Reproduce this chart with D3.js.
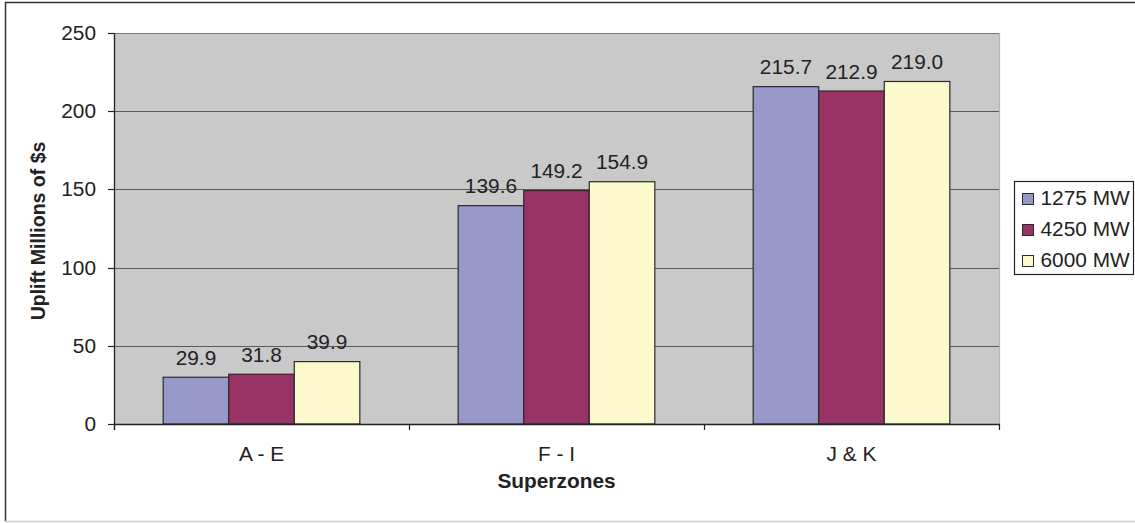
<!DOCTYPE html>
<html>
<head>
<meta charset="utf-8">
<script src="https://cdn.jsdelivr.net/npm/d3@7"></script>
<style>
  html, body { margin: 0; padding: 0; background: #fff; }
  svg { display: block; }
  text { font-family: "Liberation Sans", Arial, sans-serif; fill: #222; }
</style>
</head>
<body>
<svg id="chart" width="1135" height="523"></svg>
<script>
// Uplift by superzone for three capacity cases (millions of $)
const categories = ["A - E", "F - I", "J & K"];
const seriesNames = ["1275 MW", "4250 MW", "6000 MW"];
const values1275 = [29.9, 139.6, 215.7];
const values4250 = [31.8, 149.2, 212.9];
const values6000 = [39.9, 154.9, 219.0];
const yTicks = [0, 50, 100, 150, 200, 250];
const seriesColors = ["#9797c9", "#993366", "#fcf9cc"];

const seriesValues = [values1275, values4250, values6000];

const svg = d3.select("#chart");
const W = 1135, H = 523;
const plot = { left: 114, right: 999, top: 33, bottom: 424 };
const FS = 19.5;       // font size
const SX = 1.07;       // horizontal glyph stretch

// outer frame
svg.append("line").attr("x1", 5).attr("x2", W).attr("y1", 2.5).attr("y2", 2.5)
  .attr("stroke", "#333").attr("stroke-width", 1.5);
svg.append("line").attr("x1", 5.5).attr("x2", 5.5).attr("y1", 2).attr("y2", 521.5)
  .attr("stroke", "#333").attr("stroke-width", 1.5);
svg.append("line").attr("x1", 5).attr("x2", W).attr("y1", 521.5).attr("y2", 521.5)
  .attr("stroke", "#cfcfcf").attr("stroke-width", 1.5);

const x = d3.scaleBand().domain(categories)
  .range([plot.left, plot.right]).paddingInner(1 / 3).paddingOuter(1 / 6);
const xs = d3.scaleBand().domain(seriesNames).range([0, x.bandwidth()]);
const y = d3.scaleLinear().domain([0, 250]).range([plot.bottom, plot.top]);

// plot background
svg.append("rect")
  .attr("x", plot.left).attr("y", plot.top)
  .attr("width", plot.right - plot.left).attr("height", plot.bottom - plot.top)
  .attr("fill", "#c9c9ca");

// gridlines
svg.append("g").selectAll("line")
  .data(yTicks.filter(t => t > 0 && t < 250))
  .join("line")
  .attr("x1", plot.left).attr("x2", plot.right)
  .attr("y1", d => Math.round(y(d)) + 0.5).attr("y2", d => Math.round(y(d)) + 0.5)
  .attr("stroke", "#5a5a5a").attr("stroke-width", 1);

// plot border (top & right)
svg.append("line").attr("x1", plot.left).attr("x2", plot.right)
  .attr("y1", plot.top + 0.5).attr("y2", plot.top + 0.5)
  .attr("stroke", "#7a7a7a").attr("stroke-width", 1.2);
svg.append("line").attr("x1", plot.right + 0.5).attr("x2", plot.right + 0.5)
  .attr("y1", plot.top).attr("y2", plot.bottom)
  .attr("stroke", "#b5b5b5").attr("stroke-width", 1.2);

// bars
const groups = svg.append("g").selectAll("g")
  .data(categories)
  .join("g")
  .attr("transform", d => `translate(${x(d)},0)`);

groups.selectAll("rect")
  .data((c, ci) => seriesNames.map((s, si) => ({ s, si, v: seriesValues[si][ci] })))
  .join("rect")
  .attr("x", d => xs(d.s))
  .attr("y", d => y(d.v))
  .attr("width", xs.bandwidth())
  .attr("height", d => y(0) - y(d.v))
  .attr("fill", d => seriesColors[d.si])
  .attr("stroke", "#2a2a2a").attr("stroke-width", 1.2);

// value labels
groups.selectAll("text")
  .data((c, ci) => seriesNames.map((s, si) => ({ s, si, v: seriesValues[si][ci] })))
  .join("text")
  .attr("transform", d => `translate(${xs(d.s) + xs.bandwidth() / 2},${y(d.v) - 12.5}) scale(${SX},1)`)
  .attr("text-anchor", "middle")
  .style("font-size", FS + "px")
  .text(d => d.v.toFixed(1));

// y axis
const yAxis = svg.append("g");
yAxis.append("line").attr("x1", plot.left + 0.5).attr("x2", plot.left + 0.5)
  .attr("y1", plot.top).attr("y2", plot.bottom + 6)
  .attr("stroke", "#222").attr("stroke-width", 1.3);
yAxis.selectAll(".tick")
  .data(yTicks)
  .join("line")
  .attr("x1", plot.left - 6).attr("x2", plot.left)
  .attr("y1", d => Math.round(y(d)) + 0.5).attr("y2", d => Math.round(y(d)) + 0.5)
  .attr("stroke", "#222").attr("stroke-width", 1.2);
yAxis.selectAll("text")
  .data(yTicks)
  .join("text")
  .attr("transform", d => `translate(96,${y(d)}) scale(${SX},1)`)
  .attr("text-anchor", "end")
  .attr("dy", "0.36em")
  .style("font-size", FS + "px")
  .text(d => d);

// x axis
const xAxis = svg.append("g");
xAxis.append("line").attr("x1", plot.left).attr("x2", plot.right + 1)
  .attr("y1", plot.bottom + 0.5).attr("y2", plot.bottom + 0.5)
  .attr("stroke", "#222").attr("stroke-width", 1.3);
const bounds = categories.map(c => x(c) - x.step() * x.paddingInner() / 2)
  .concat([plot.right]);
bounds[0] = plot.left;
xAxis.selectAll(".tick")
  .data(bounds)
  .join("line")
  .attr("x1", d => Math.round(d) + 0.5).attr("x2", d => Math.round(d) + 0.5)
  .attr("y1", plot.bottom).attr("y2", plot.bottom + 6)
  .attr("stroke", "#222").attr("stroke-width", 1.2);
xAxis.selectAll("text")
  .data(categories)
  .join("text")
  .attr("transform", d => `translate(${x(d) + x.bandwidth() / 2},461) scale(${SX},1)`)
  .attr("text-anchor", "middle")
  .style("font-size", FS + "px")
  .text(d => d);

// axis titles
svg.append("text")
  .attr("transform", `translate(${(plot.left + plot.right) / 2},488) scale(${SX},1)`)
  .attr("text-anchor", "middle")
  .style("font-size", FS + "px").style("font-weight", "bold")
  .text("Superzones");
svg.append("text")
  .attr("transform", `translate(45,231) scale(${SX},1) rotate(-90)`)
  .attr("text-anchor", "middle")
  .style("font-size", FS + "px").style("font-weight", "bold")
  .text("Uplift Millions of $s");

// legend
const legend = svg.append("g");
legend.append("rect")
  .attr("x", 1014.5).attr("y", 181.5).attr("width", 119).attr("height", 93)
  .attr("fill", "#fff").attr("stroke", "#222").attr("stroke-width", 1.2);
const items = legend.selectAll("g.item")
  .data(seriesNames)
  .join("g")
  .attr("transform", (d, i) => `translate(0,${205 + i * 31})`);
items.append("rect")
  .attr("x", 1022.5).attr("y", -11.5).attr("width", 11).attr("height", 11)
  .attr("fill", (d, i) => seriesColors[i])
  .attr("stroke", "#2a2a2a").attr("stroke-width", 1);
items.append("text")
  .attr("transform", `translate(1040.5,0) scale(${SX},1)`)
  .style("font-size", FS + "px")
  .text(d => d);
</script>
</body>
</html>
